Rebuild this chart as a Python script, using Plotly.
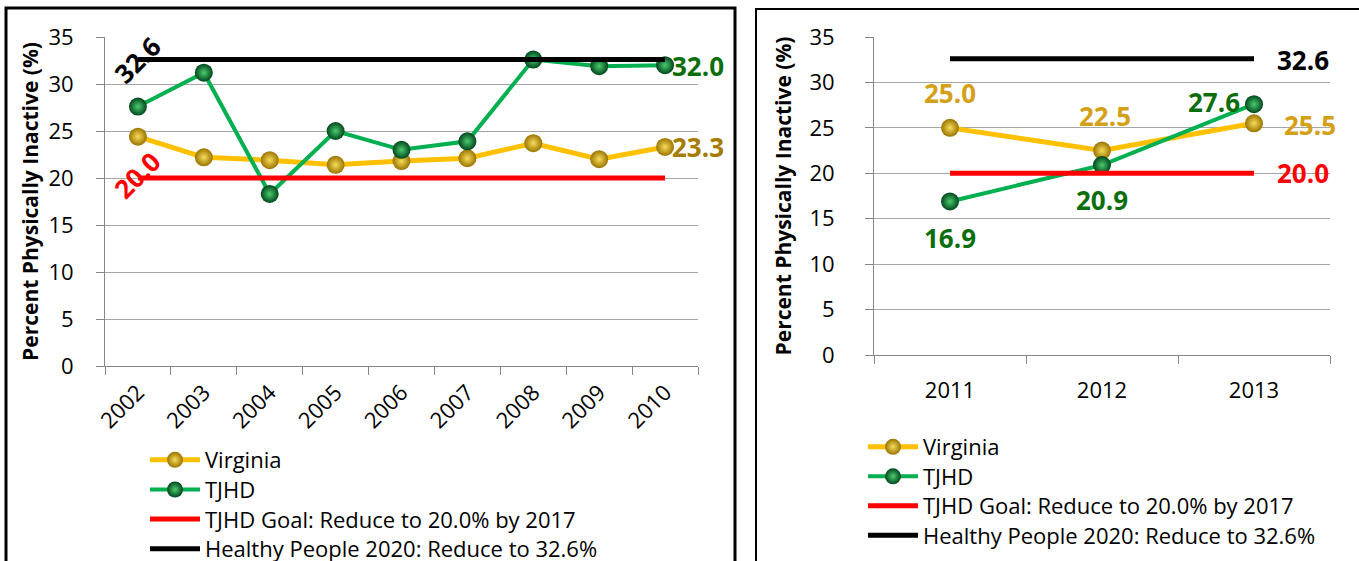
import plotly.graph_objects as go

# ---------------- data ----------------
years_a = ["2002", "2003", "2004", "2005", "2006", "2007", "2008", "2009", "2010"]
virginia_a = [24.4, 22.2, 21.9, 21.4, 21.8, 22.1, 23.7, 22.0, 23.3]
tjhd_a = [27.6, 31.2, 18.3, 25.0, 23.0, 23.9, 32.6, 31.9, 32.0]

years_b = ["2011", "2012", "2013"]
virginia_b = [25.0, 22.5, 25.5]
tjhd_b = [16.9, 20.9, 27.6]

goal_value = 20.0
hp_value = 32.6

y_ticks = [0, 5, 10, 15, 20, 25, 30, 35]
names = ["Virginia", "TJHD", "TJHD Goal: Reduce to 20.0% by 2017",
         "Healthy People 2020: Reduce to 32.6%"]
y_title = "Percent Physically Inactive (%)"

# ---------------- styles ----------------
FONT = "Open Sans, Lato, sans-serif"
GOLD = "#FFC000"
GREEN = "#00B050"
RED = "#FF0000"
BLACK = "#000000"
GOLD_LBL_A = "#A67C00"
GOLD_LBL_B = "#D4A017"
GREEN_LBL = "#0B6E0B"
W, H = 1359, 561

fig = go.Figure()


def add_panel(xs, va, tj, xa, ya, legends):
    fig.add_trace(go.Scatter(
        x=xs, y=va, name=names[0], mode="lines+markers", xaxis=xa, yaxis=ya,
        legend=legends[0],
        line=dict(color=GOLD, width=5),
        marker=dict(size=18, color="#9A7400",
                    gradient=dict(type="radial", color="#F7DC5A"),
                    line=dict(width=0))))
    fig.add_trace(go.Scatter(
        x=xs, y=tj, name=names[1], mode="lines+markers", xaxis=xa, yaxis=ya,
        legend=legends[1],
        line=dict(color=GREEN, width=4),
        marker=dict(size=18, color="#00461C",
                    gradient=dict(type="radial", color="#4CCB6E"),
                    line=dict(width=0))))
    fig.add_trace(go.Scatter(
        x=xs, y=[goal_value] * len(xs), name=names[2], mode="lines",
        xaxis=xa, yaxis=ya, legend=legends[2],
        line=dict(color=RED, width=5)))
    fig.add_trace(go.Scatter(
        x=xs, y=[hp_value] * len(xs), name=names[3], mode="lines",
        xaxis=xa, yaxis=ya, legend=legends[3],
        line=dict(color=BLACK, width=5)))


add_panel(years_a, virginia_a, tjhd_a, "x", "y",
          ["legend", "legend2", "legend3", "legend4"])
add_panel(years_b, virginia_b, tjhd_b, "x2", "y2",
          ["legend5", "legend6", "legend7", "legend8"])

axis_common = dict(showline=True, linecolor="#868686", linewidth=1,
                   ticks="outside", tickcolor="#868686", ticklen=8,
                   tickfont=dict(family=FONT, size=22, color="#000"))


def ytitle(standoff):
    return dict(text="<b>%s</b>" % y_title, font=dict(family=FONT, size=21),
                standoff=standoff)


fig.update_layout(
    width=W, height=H,
    margin=dict(l=0, r=0, t=0, b=0, autoexpand=False),
    paper_bgcolor="white", plot_bgcolor="white",
    font=dict(family=FONT, color="#000"),
    xaxis=dict(domain=[105 / W, 698 / W], anchor="y", type="category",
               range=[-0.5, len(years_a) - 0.5], tickson="boundaries",
               tickangle=-45, showgrid=False, automargin=False,
               ticklabelstandoff=4, **axis_common),
    yaxis=dict(domain=[1 - 366 / H, 1 - 37 / H], anchor="x",
               range=[0, 35], tickvals=y_ticks, showgrid=True,
               gridcolor="#A6A6A6", gridwidth=1, zeroline=False, automargin=False,
               ticklabelstandoff=18, title=ytitle(4), **axis_common),
    xaxis2=dict(domain=[874 / W, 1330 / W], anchor="y2", type="category",
                range=[-0.5, len(years_b) - 0.5], tickson="boundaries",
                tickangle=0, showgrid=False, automargin=False,
                ticklabelstandoff=16, **axis_common),
    yaxis2=dict(domain=[1 - 355 / H, 1 - 37 / H], anchor="x2",
                range=[0, 35], tickvals=y_ticks, showgrid=True,
                gridcolor="#A6A6A6", gridwidth=1, zeroline=False, automargin=False,
                ticklabelstandoff=26, title=ytitle(12), **axis_common),
    showlegend=True,
)

# one legend box per entry so the row spacing matches the reference
leg_style = dict(xanchor="left", yanchor="middle", bgcolor="rgba(0,0,0,0)",
                 font=dict(family=FONT, size=22, color="#000"), itemwidth=50,
                 borderwidth=0)
left_rows = [460, 489.7, 519.3, 549]
right_rows = [447, 476.5, 506, 535.5]
legend_layout = {}
for i, yy in enumerate(left_rows):
    key = "legend" if i == 0 else "legend%d" % (i + 1)
    legend_layout[key] = dict(x=145 / W, y=1 - yy / H, **leg_style)
for i, yy in enumerate(right_rows):
    key = "legend%d" % (i + 5)
    legend_layout[key] = dict(x=863 / W, y=1 - yy / H, **leg_style)
fig.update_layout(**legend_layout)

# ---------------- data labels ----------------
ia_first, ia_last = 0, len(years_a) - 1
ib = list(range(len(years_b)))
lbl = dict(family=FONT, size=26)


def fmt(v):
    return "<b>%.1f</b>" % v


def label(x, y, v, color, xref, yref, **kw):
    d = dict(x=x, y=y, xref=xref, yref=yref, text=fmt(v), showarrow=False,
             font=dict(color=color, **lbl))
    d.update(kw)
    return d


ann = [
    # left panel
    label(ia_first, hp_value, hp_value, BLACK, "x", "y", textangle=-45, xshift=-1, yshift=0),
    label(ia_first, goal_value, goal_value, RED, "x", "y", textangle=-45, xshift=-1, yshift=3),
    label(ia_last, tjhd_a[-1], tjhd_a[-1], GREEN_LBL, "x", "y", xanchor="left", xshift=5, yshift=-1),
    label(ia_last, virginia_a[-1], virginia_a[-1], GOLD_LBL_A, "x", "y", xanchor="left", xshift=5, yshift=0),
    # right panel
    label(ib[0], virginia_b[0], virginia_b[0], GOLD_LBL_B, "x2", "y2", yshift=35),
    label(ib[1], virginia_b[1], virginia_b[1], GOLD_LBL_B, "x2", "y2", yshift=35, xshift=3),
    label(ib[2], virginia_b[2], virginia_b[2], GOLD_LBL_B, "x2", "y2", xanchor="left", xshift=28, yshift=-2),
    label(ib[0], tjhd_b[0], tjhd_b[0], GREEN_LBL, "x2", "y2", yshift=-37),
    label(ib[1], tjhd_b[1], tjhd_b[1], GREEN_LBL, "x2", "y2", yshift=-35),
    label(ib[2], tjhd_b[2], tjhd_b[2], GREEN_LBL, "x2", "y2", xanchor="right", xshift=-12, yshift=2),
    label(ib[2], goal_value, goal_value, RED, "x2", "y2", xanchor="left", xshift=21, yshift=0),
    label(ib[2], hp_value, hp_value, BLACK, "x2", "y2", xanchor="left", xshift=21, yshift=-1),
]
fig.update_layout(annotations=ann)


# ---------------- panel frames ----------------
def px_x(v):
    return v / W


def px_y(v):
    return 1 - v / H


fig.add_shape(type="rect", xref="paper", yref="paper",
              x0=px_x(6), x1=px_x(735), y0=px_y(600), y1=px_y(8),
              line=dict(color="black", width=3), fillcolor="rgba(0,0,0,0)")
fig.add_shape(type="rect", xref="paper", yref="paper",
              x0=px_x(756), x1=px_x(1400), y0=px_y(600), y1=px_y(9),
              line=dict(color="black", width=2), fillcolor="rgba(0,0,0,0)")

fig.write_html("out.html", config={"displayModeBar": False},
               post_script="document.body.style.margin='0';document.body.style.overflow='hidden';")
